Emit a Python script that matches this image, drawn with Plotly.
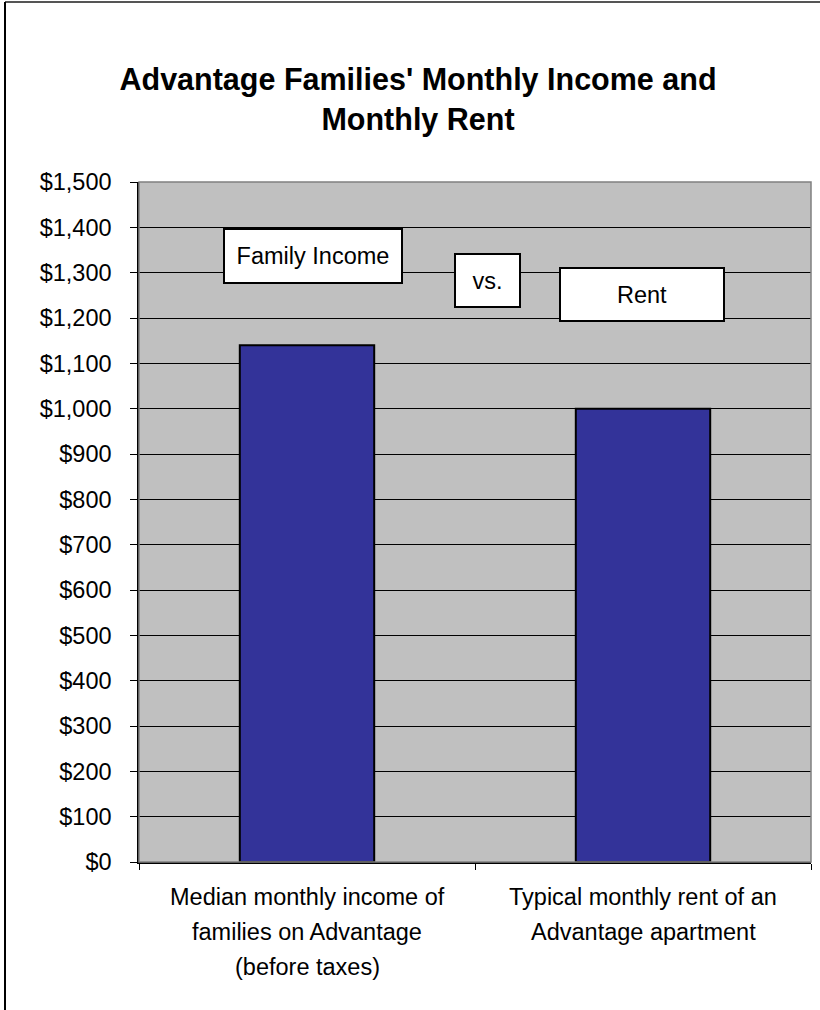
import plotly.graph_objects as go

# ---- data ----
categories = ["Median monthly income of families on Advantage (before taxes)",
              "Typical monthly rent of an Advantage apartment"]
category_lines = [["Median monthly income of", "families on Advantage", "(before taxes)"],
                  ["Typical monthly rent of an", "Advantage apartment"]]
values = [1140, 1000]
tick_values = [0, 100, 200, 300, 400, 500, 600, 700, 800, 900, 1000, 1100, 1200, 1300, 1400, 1500]
tick_labels = ["$0", "$100", "$200", "$300", "$400", "$500", "$600", "$700", "$800", "$900",
               "$1,000", "$1,100", "$1,200", "$1,300", "$1,400", "$1,500"]
title_text = "Advantage Families' Monthly Income and<br>Monthly Rent"
box_texts = ["Family Income", "vs.", "Rent"]

# ---- layout constants (pixels) ----
W, H = 820, 1010
L, R, T, B = 139, 811, 182, 862
PW, PH = R - L, B - T

def px(x):
    return (x - L) / PW

def py(y):
    return (B - y) / PH

FONT = "Liberation Sans, Arial, sans-serif"

fig = go.Figure()
fig.add_trace(go.Bar(
    x=categories, y=values,
    marker=dict(color="#333399", line=dict(color="#000000", width=2)),
    showlegend=False, hoverinfo="skip",
))

annotations = []
# category labels (one annotation per line for Excel-like line spacing)
line_y = [897, 932, 967]
for cat, lines in zip(categories, category_lines):
    for i, ln in enumerate(lines):
        annotations.append(dict(
            x=cat, xref="x", y=py(line_y[i]), yref="paper",
            text=ln, showarrow=False, xanchor="center", yanchor="middle",
            font=dict(family=FONT, size=23.5, color="#000000"),
        ))

# boxed labels
boxes = [
    (box_texts[0], 224, 402, 229, 283),
    (box_texts[1], 455, 520, 254, 307),
    (box_texts[2], 560, 724, 268, 321),
]
for txt, x0, x1, y0, y1 in boxes:
    annotations.append(dict(
        x=px((x0 + x1) / 2), xref="paper", y=py((y0 + y1) / 2), yref="paper",
        text=txt, showarrow=False, xanchor="center", yanchor="middle",
        width=x1 - x0 - 2, height=y1 - y0 - 2, align="center", valign="middle",
        bgcolor="#FFFFFF", bordercolor="#000000", borderwidth=2, borderpad=0,
        font=dict(family=FONT, size=23.5, color="#000000"),
    ))

shapes = [
    # plot area border
    dict(type="rect", xref="paper", yref="paper", x0=0, x1=1, y0=0, y1=1,
         line=dict(color="#808080", width=1.5), layer="above"),
    # chart outer border (top and left)
    dict(type="line", xref="paper", yref="paper", x0=px(5), x1=px(820), y0=py(2), y1=py(2),
         line=dict(color="#555555", width=2)),
    dict(type="line", xref="paper", yref="paper", x0=px(5), x1=px(5), y0=py(2), y1=py(1012),
         line=dict(color="#000000", width=2)),
]

fig.update_layout(
    width=W, height=H,
    margin=dict(l=L, r=W - R, t=T, b=H - B, pad=0),
    paper_bgcolor="#FFFFFF", plot_bgcolor="#C0C0C0",
    bargap=0.6,
    title=dict(text=title_text, x=418 / W, xanchor="center", xref="container",
               y=1 - 90 / H, yanchor="middle", yref="container",
               font=dict(family=FONT, size=30.5, color="#000000", weight="bold")),
    annotations=annotations,
    shapes=shapes,
    font=dict(family=FONT, color="#000000"),
)
fig.update_yaxes(
    range=[0, 1500], tickvals=tick_values, ticktext=tick_labels,
    showgrid=True, gridcolor="#000000", gridwidth=1,
    showline=True, linecolor="#000000", linewidth=1.5,
    ticks="outside", ticklen=7, tickcolor="#000000", tickwidth=1,
    ticklabelstandoff=14,
    tickfont=dict(family=FONT, size=23.5, color="#000000"),
    zeroline=False, fixedrange=True,
)
fig.update_xaxes(
    showticklabels=False, tickson="boundaries",
    ticks="outside", ticklen=6, tickcolor="#000000", tickwidth=1,
    showline=True, linecolor="#000000", linewidth=1.5,
    showgrid=False, fixedrange=True,
)

fig.write_html("out.html", config={"displayModeBar": False},
               post_script="document.body.style.margin='0px';")
